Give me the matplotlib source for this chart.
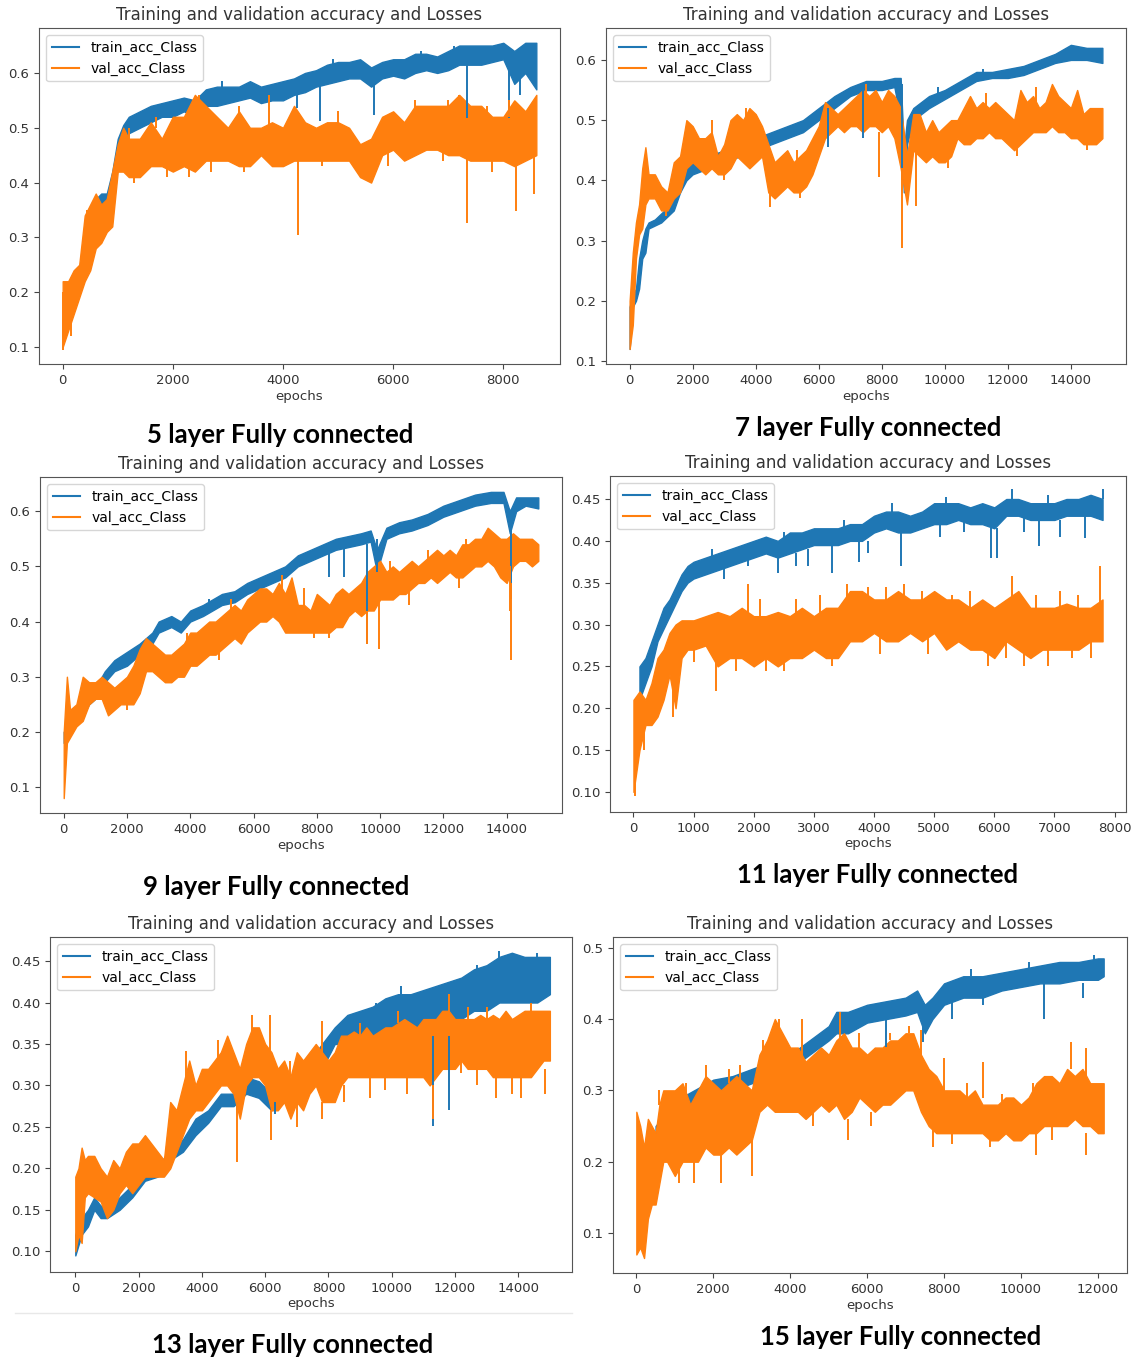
import matplotlib
matplotlib.use('Agg')
import numpy as np
import matplotlib.pyplot as plt
from matplotlib.lines import Line2D
from matplotlib.ticker import FormatStrFormatter

BLUE = '#1f77b4'
ORANGE = '#ff7f0e'
TITLE = 'Training and validation accuracy and Losses'

#----------------------------------------------------------------
# 5 layer
#----------------------------------------------------------------
x5 = [0, 100, 200, 300, 400, 500, 600, 700, 800, 900, 1000, 1100, 1200,
      1400, 1600, 1800, 2000, 2200, 2400, 2600, 2800, 3000, 3200, 3400, 3600,
      3800, 4000, 4200, 4400, 4600, 4800, 5000, 5200, 5400, 5600, 5800, 6000,
      6200, 6400, 6600, 6800, 7000, 7200, 7400, 7600, 7800, 8000, 8200, 8400, 8600]
t5_lo = [.12, .14, .17, .20, .24, .29, .34, .35, .36, .39, .44, .47, .49, .50, .51, .52, .52,
         .53, .52, .54, .54, .545, .55, .555, .545, .55, .55, .56, .565, .575, .58, .585,
         .59, .59, .575, .59, .595, .59, .60, .605, .60, .605, .615, .615, .615, .62, .625,
         .58, .60, .57]
t5_hi = [.15, .17, .20, .24, .28, .33, .37, .38, .38, .42, .48, .505, .52, .53, .54, .545,
         .55, .555, .55, .57, .575, .575, .575, .585, .575, .58, .585, .59, .60, .605, .615,
         .62, .62, .625, .61, .62, .625, .625, .635, .635, .63, .64, .65, .65, .65, .65, .655,
         .64, .655, .655]
v5_lo = [.10, .13, .16, .19, .22, .24, .28, .29, .31, .32, .42, .42, .41, .41, .43, .43, .42,
         .43, .42, .44, .44, .44, .43, .43, .45, .43, .43, .44, .44, .44, .44, .44, .44, .41,
         .40, .45, .46, .44, .45, .46, .46, .45, .45, .44, .44, .44, .44, .43, .44, .45]
v5_hi = [.22, .22, .24, .25, .34, .36, .38, .36, .37, .42, .47, .50, .48, .48, .51, .48, .52,
         .52, .56, .54, .52, .50, .53, .50, .50, .51, .50, .54, .51, .50, .51, .51, .50, .47,
         .48, .52, .53, .51, .54, .54, .54, .54, .56, .54, .54, .52, .52, .55, .53, .56]
t5_spk = [(4250, .56, .536), (4670, .58, .512), (5660, .58, .524), (7340, .62, .518),
          (8100, .62, .518), (8300, .60, .56), (2900, .57, .585), (4900, .61, .625),
          (6500, .63, .64), (7100, .63, .65)]
v5_spk = [(10, .20, .095), (2480, .50, .56), (3750, .49, .56), (4280, .44, .305),
          (7340, .45, .327), (8230, .44, .348), (8550, .45, .38), (7200, .50, .56),
          (1300, .42, .40), (1900, .43, .41), (2300, .44, .41), (2700, .44, .42),
          (3300, .44, .42), (4700, .45, .43), (5900, .46, .43), (6900, .47, .44),
          (7800, .45, .42), (1200, .47, .50), (1700, .50, .52), (3200, .52, .54),
          (5000, .50, .53), (6400, .53, .55), (7000, .53, .55), (7700, .52, .54),
          (8100, .52, .55), (150, .15, .12), (350, .21, .26), (450, .30, .35)]

#----------------------------------------------------------------
# 7 layer
#----------------------------------------------------------------
x7_t = [0, 100, 200, 300, 400, 500, 600, 800, 1000, 1200, 1400, 1600, 1800, 2000, 2500,
        3000, 3500, 4000, 4500, 5000, 5500, 6000, 6500, 7000, 7500, 8000, 8400, 8600, 8700,
        8800, 9000, 9500, 10000, 10500, 11000, 11500, 12000, 12500, 13000, 13500, 14000,
        14500, 15000]
t7_lo = [.12, .19, .20, .22, .27, .28, .32, .325, .33, .34, .35, .38, .40, .41, .42, .43, .44,
         .45, .46, .47, .48, .50, .52, .54, .55, .55, .555, .50, .38, .46, .50, .52, .535, .55,
         .565, .57, .57, .575, .585, .595, .60, .60, .595]
t7_hi = [.19, .21, .22, .27, .30, .32, .33, .335, .345, .355, .37, .40, .42, .43, .44, .45,
         .46, .47, .48, .49, .50, .52, .54, .555, .565, .565, .57, .57, .45, .50, .52, .54, .55,
         .565, .58, .58, .585, .59, .60, .61, .625, .62, .62]
x7_v = [0, 100, 200, 300, 400, 500, 600] + list(range(800, 15001, 200))
v7_lo = [.12, .16, .27, .31, .32, .36, .37,
         .37, .35, .35, .37, .38, .42, .43, .42, .41, .42,
         .41, .41, .42, .44, .43, .42, .43, .44, .38, .37,
         .38, .39, .38, .38, .39, .41, .44, .47, .48, .49,
         .48, .49, .49, .48, .49, .49, .48, .49, .47, .42,
         .36, .45, .44, .43, .44, .43, .43, .44, .47, .46,
         .46, .47, .47, .48, .47, .47, .46, .45, .46, .47,
         .48, .48, .48, .49, .48, .48, .47, .47, .46, .46,
         .46, .47]
v7_hi = [.20, .28, .33, .36, .42, .455, .41,
         .41, .39, .38, .43, .44, .50, .49, .47, .47, .48,
         .44, .46, .50, .51, .50, .52, .51, .49, .46, .43,
         .44, .45, .43, .44, .45, .47, .49, .53, .52, .51,
         .52, .53, .54, .55, .54, .55, .53, .55, .54, .52,
         .44, .51, .51, .48, .50, .48, .49, .50, .50, .52,
         .54, .52, .53, .52, .53, .52, .51, .50, .55, .53,
         .54, .52, .53, .56, .54, .53, .52, .55, .51, .52,
         .52, .52]
t7_spk = [(6300, .52, .455), (7400, .55, .47), (8650, .56, .40), (9800, .54, .555),
          (11200, .57, .585), (13700, .60, .615)]
v7_spk = [(8650, .42, .287), (7900, .48, .405), (9100, .45, .358), (4450, .40, .355),
          (1150, .36, .34), (2600, .47, .50), (3700, .49, .52), (5300, .42, .45),
          (7500, .54, .56), (11300, .52, .545), (12900, .53, .555), (3000, .42, .40),
          (5400, .39, .37), (10100, .44, .42), (12300, .46, .44), (14500, .47, .45)]

#----------------------------------------------------------------
# 9 layer
#----------------------------------------------------------------
x9_t = [0, 200, 500, 800, 1000, 1300, 1600, 2000, 2400, 2800, 3000, 3400, 3700, 4000, 4400,
        5000, 5400, 5800, 6200, 6600, 7000, 7400, 7800, 8200, 8600, 9000, 9400, 9700, 9900,
        10200, 10600, 11000, 11500, 12000, 12500, 13000, 13500, 13900, 14100, 14300, 14600,
        15000]
t9_lo = [.18, .20, .22, .25, .26, .29, .31, .32, .34, .36, .38, .39, .38, .40, .41, .43, .435,
         .45, .46, .47, .48, .50, .51, .52, .53, .535, .54, .545, .49, .55, .56, .565, .575,
         .59, .60, .61, .615, .615, .56, .60, .61, .605]
t9_hi = [.20, .22, .25, .27, .28, .31, .33, .345, .36, .38, .40, .41, .40, .42, .43, .45, .455,
         .47, .48, .49, .50, .52, .53, .54, .55, .555, .56, .565, .53, .57, .58, .585, .595,
         .61, .62, .63, .635, .635, .60, .625, .625, .625]
x9_v = [0, 100] + list(range(200, 15001, 200))
v9_lo = [.08, .18, .19, .21, .22, .25, .26, .26, .23, .24,
         .25, .25, .25, .27, .31, .31, .30, .29, .29, .30,
         .30, .32, .32, .33, .34, .34, .35, .36, .37, .36,
         .38, .39, .40, .40, .41, .40, .38, .38, .38, .38,
         .38, .38, .38, .38, .39, .39, .41, .42, .41, .42,
         .42, .44, .44, .44, .45, .45, .46, .47, .47, .48,
         .47, .48, .49, .48, .48, .49, .50, .50, .51, .50,
         .48, .47, .50, .51, .51, .50, .51]
v9_hi = [.20, .30, .24, .25, .30, .29, .29, .30, .29, .28,
         .29, .30, .32, .35, .37, .36, .35, .34, .34, .35,
         .36, .38, .38, .39, .40, .40, .41, .42, .43, .42,
         .44, .45, .46, .46, .45, .47, .45, .48, .43, .43,
         .42, .45, .44, .43, .45, .46, .45, .46, .47, .49,
         .50, .51, .49, .50, .49, .50, .51, .50, .51, .52,
         .53, .52, .53, .52, .54, .54, .55, .55, .57, .56,
         .55, .55, .56, .55, .55, .55, .54]
t9_spk = [(8400, .53, .48), (8850, .535, .48), (9600, .54, .36), (9900, .55, .49),
          (14150, .58, .44), (4600, .43, .44), (7200, .50, .51), (11800, .59, .60)]
v9_spk = [(9600, .42, .36), (9950, .44, .35), (14150, .47, .33), (6900, .44, .485),
          (8400, .40, .37), (14100, .50, .42), (3900, .36, .38), (5300, .41, .44),
          (7600, .42, .46), (10300, .48, .51), (11500, .50, .53), (12700, .53, .55),
          (2000, .26, .24), (4900, .36, .33), (7900, .39, .37), (10900, .46, .43),
          (12500, .49, .46)]

#----------------------------------------------------------------
# 11 layer
#----------------------------------------------------------------
x11_t = [100, 200, 300, 400, 500, 600, 700, 800, 900, 1000] + list(range(1200, 7801, 200))
t11_lo = [.21, .23, .25, .28, .295, .31, .325, .34, .35, .355,
          .36, .365, .37, .375, .38, .385, .38, .385, .39, .395,
          .395, .395, .40, .40, .41, .415, .41, .41, .415, .42,
          .42, .425, .42, .42, .415, .43, .43, .425, .425, .425,
          .43, .43, .43, .425]
t11_hi = [.25, .26, .28, .30, .32, .33, .345, .36, .37, .375,
          .38, .385, .39, .395, .40, .405, .40, .41, .41, .415,
          .415, .415, .42, .42, .43, .435, .435, .43, .435, .445,
          .445, .445, .44, .445, .44, .45, .45, .445, .445, .445,
          .45, .45, .455, .45]
x11_v = [0, 100, 200, 300, 400, 500, 600, 700, 800, 900, 1000] + list(range(1200, 7801, 200))
v11_lo = [.10, .15, .18, .18, .19, .21, .24, .20, .26, .27, .27,
          .275, .25, .26, .26, .25, .26, .25, .26, .26,
          .27, .26, .26, .28, .28, .29, .28, .28, .29, .28,
          .29, .27, .28, .27, .27, .26, .28, .27, .26, .27,
          .27, .27, .27, .28, .28]
v11_hi = [.21, .22, .21, .23, .26, .27, .29, .30, .305, .305, .305,
          .31, .315, .31, .32, .31, .31, .315, .31, .32,
          .31, .32, .32, .34, .34, .33, .33, .34, .33, .33,
          .34, .33, .33, .32, .33, .32, .33, .34, .32, .32,
          .32, .325, .32, .32, .33]
t11_spk = [(2400, .38, .362), (3300, .395, .362), (3750, .40, .375), (4450, .41, .37),
           (5950, .415, .38), (6050, .415, .38), (6750, .425, .394), (7500, .43, .404),
           (6300, .45, .462), (7800, .45, .462), (1500, .37, .355), (2900, .39, .37),
           (1300, .38, .39), (2500, .40, .41), (3500, .415, .425), (4300, .435, .445),
           (5200, .445, .452), (6900, .445, .455), (1900, .38, .37), (2700, .385, .37),
           (3900, .40, .385), (5100, .42, .405), (5500, .425, .41), (6500, .43, .41),
           (7100, .425, .405)]
v11_spk = [(20, .20, .095), (180, .19, .15), (650, .25, .19), (1380, .27, .22),
           (1900, .31, .348), (2500, .26, .245), (3550, .33, .348), (4500, .33, .348),
           (6300, .33, .358), (7750, .32, .37), (6500, .27, .25), (5900, .27, .25),
           (2100, .30, .33), (2700, .30, .33), (3100, .30, .335), (3900, .32, .345),
           (4200, .32, .345), (4800, .32, .34), (5300, .31, .335), (5600, .31, .34),
           (6700, .31, .335), (7100, .31, .34), (7400, .31, .335), (1000, .28, .255),
           (1700, .27, .245), (2200, .27, .245), (3300, .27, .25), (4100, .29, .265),
           (4900, .29, .265), (6200, .28, .26), (6900, .27, .25), (7300, .28, .26),
           (7600, .28, .26)]

#----------------------------------------------------------------
# 13 layer
#----------------------------------------------------------------
x13_t = [0, 200, 400, 600, 800, 1000] + list(range(1400, 14801, 400)) + [15000]
t13_lo = [.095, .12, .13, .15, .14, .14, .15, .165, .185, .19,
          .21, .22, .24, .255, .275, .275, .29, .285, .27, .28,
          .29, .30, .32, .35, .35, .355, .36, .36, .36, .37,
          .37, .37, .38, .38, .39, .39, .40, .40, .40, .40, .41]
t13_hi = [.12, .14, .15, .165, .155, .155, .165, .18, .195, .20,
          .225, .235, .26, .27, .29, .29, .31, .305, .29, .30,
          .31, .33, .35, .37, .385, .39, .395, .405, .41, .41,
          .415, .42, .425, .43, .44, .445, .455, .46, .455, .455, .455]
x13_v = [0, 100, 200, 300, 400] + list(range(600, 15001, 200))
v13_lo = [.10, .12, .11, .165, .17,
          .165, .16, .14, .15, .17, .18, .17, .18, .19, .19,
          .19, .19, .20, .22, .24, .26, .27, .27, .28, .29,
          .30, .30, .29, .26, .30, .31, .31, .30, .27, .27,
          .28, .26, .28, .27, .29, .30, .28, .28, .28, .30,
          .31, .31, .31, .31, .31, .31, .31, .31, .31, .31,
          .31, .31, .31, .30, .31, .32, .32, .32, .33, .32,
          .32, .32, .32, .31, .31, .31, .31, .31, .31, .31,
          .32, .33, .33]
v13_hi = [.19, .20, .225, .21, .215,
          .215, .20, .19, .21, .20, .22, .23, .23, .24, .23,
          .22, .21, .28, .27, .30, .33, .30, .32, .32, .33,
          .34, .36, .34, .32, .35, .37, .37, .35, .34, .32,
          .33, .31, .34, .33, .34, .35, .34, .33, .34, .36,
          .36, .365, .36, .37, .36, .365, .37, .37, .375, .38,
          .375, .37, .38, .38, .38, .39, .39, .38, .38, .38,
          .38, .385, .38, .385, .38, .39, .38, .385, .39, .39,
          .39, .39, .39]
t13_spk = [(11300, .36, .2515), (11800, .36, .27), (6300, .28, .265), (5100, .28, .27),
           (9500, .39, .40), (10300, .41, .42), (12700, .435, .445), (13400, .45, .462),
           (14600, .455, .46)]
v13_spk = [(3500, .30, .342), (6150, .34, .385), (7800, .33, .378), (11800, .38, .41),
           (5100, .29, .208), (6200, .27, .234), (7000, .28, .25), (7800, .28, .259),
           (11300, .30, .26), (13300, .31, .285), (14100, .31, .285), (14850, .32, .29),
           (9300, .31, .285), (5600, .36, .385), (8500, .30, .28), (9800, .31, .295),
           (10500, .31, .29), (12200, .33, .315), (12700, .32, .30), (13800, .31, .29),
           (9000, .36, .375), (10200, .375, .39), (12400, .38, .395), (13000, .38, .395),
           (14400, .39, .40), (4500, .33, .355), (6800, .31, .33)]

#----------------------------------------------------------------
# 15 layer
#----------------------------------------------------------------
x15_t = [500, 1000, 1500, 2000, 2500, 3000, 3500, 4000, 4500, 5000, 5200, 5500, 6000, 6500,
         7000, 7300, 7500, 7700, 8000, 8500, 9000, 9500, 10000, 10500, 11000, 11500, 12000,
         12150]
t15_lo = [.22, .26, .28, .30, .30, .31, .32, .33, .35, .37, .38, .38, .395, .40, .405, .41,
          .38, .40, .42, .43, .43, .44, .445, .45, .45, .455, .455, .46]
t15_hi = [.25, .285, .30, .315, .32, .33, .34, .35, .37, .39, .41, .41, .42, .425, .43, .44,
          .42, .43, .45, .46, .46, .465, .47, .475, .48, .48, .485, .485]
x15_v = [0, 100, 200, 300, 400, 500, 600, 700, 800] + list(range(1000, 12001, 200)) + [12150]
v15_lo = [.07, .08, .065, .12, .14, .14, .17, .20, .20,
          .18, .20, .20, .20, .22, .21, .21, .22, .21, .22,
          .23, .27, .28, .27, .27, .27, .27, .26, .27, .28,
          .27, .28, .26, .27, .29, .28, .27, .28, .28, .29,
          .30, .30, .27, .25, .24, .24, .24, .24, .24, .24,
          .24, .23, .23, .24, .23, .23, .24, .24, .25, .25,
          .25, .25, .26, .25, .25, .24, .24]
v15_hi = [.27, .25, .22, .26, .25, .24, .28, .30, .30,
          .30, .31, .28, .30, .32, .31, .30, .31, .32, .31,
          .30, .35, .37, .40, .38, .36, .36, .34, .35, .36,
          .35, .37, .38, .36, .36, .35, .36, .36, .37, .37,
          .38, .38, .35, .33, .32, .30, .30, .30, .29, .30,
          .28, .28, .28, .29, .29, .28, .29, .31, .32, .32,
          .31, .33, .32, .33, .31, .31, .31]
t15_spk = [(6500, .40, .361), (7450, .39, .368), (10600, .45, .40), (9000, .43, .42),
           (11600, .45, .43), (8200, .43, .40), (8700, .46, .47), (10200, .47, .48),
           (11900, .48, .49)]
v15_spk = [(3700, .37, .40), (4300, .35, .40), (5300, .37, .41), (7100, .38, .39),
           (7400, .35, .385), (11300, .33, .368), (11700, .32, .36), (8000, .30, .345),
           (9000, .29, .34), (1100, .20, .17), (1500, .20, .17), (2200, .21, .17),
           (5500, .26, .23), (7700, .25, .22), (10400, .24, .21), (11700, .24, .21),
           (3000, .23, .18), (1800, .30, .335), (2700, .31, .335), (600, .28, .30),
           (1300, .29, .31), (2400, .31, .33), (3300, .35, .37), (5800, .36, .38),
           (6600, .37, .38), (9500, .28, .295), (10300, .29, .31), (8600, .29, .31),
           (4600, .27, .25), (6100, .27, .25), (8200, .24, .225), (9200, .23, .22),
           (10800, .25, .23)]

W, H = 1138, 1362
fig = plt.figure(figsize=(W / 100.0, H / 100.0), dpi=100)


def px_axes(left, top, right, bottom):
    return fig.add_axes([left / W, 1 - bottom / H, (right - left) / W, (bottom - top) / H])


def band(ax, x, lo, hi, spk, color):
    ax.fill_between(x, lo, hi, color=color, lw=1.0, edgecolor=color)
    if spk:
        sx = [s[0] for s in spk]
        ax.vlines(sx, [s[1] for s in spk], [s[2] for s in spk], color=color, lw=1.4)


panels = [
    # box, train, val, xlim, ylim, xticks, yticks, yfmt, caption, caption pos
    ((39, 28, 560, 364), (x5, t5_lo, t5_hi, t5_spk), (x5, v5_lo, v5_hi, v5_spk),
     (-430, 9030), (0.069, 0.682), np.arange(0, 8001, 2000), np.arange(0.1, 0.61, 0.1), '%.1f',
     '5 layer Fully connected', (280, 435)),
    ((606, 28, 1126, 364), (x7_t, t7_lo, t7_hi, t7_spk), (x7_v, v7_lo, v7_hi, v7_spk),
     (-750, 15750), (0.095, 0.653), np.arange(0, 14001, 2000), np.arange(0.1, 0.61, 0.1), '%.1f',
     '7 layer Fully connected', (868, 428)),
    ((40, 477, 562, 813), (x9_t, t9_lo, t9_hi, t9_spk), (x9_v, v9_lo, v9_hi, v9_spk),
     (-750, 15750), (0.053, 0.662), np.arange(0, 14001, 2000), np.arange(0.1, 0.61, 0.1), '%.1f',
     '9 layer Fully connected', (276, 887)),
    ((610, 476, 1126, 812), (x11_t, t11_lo, t11_hi, t11_spk), (x11_v, v11_lo, v11_hi, v11_spk),
     (-390, 8190), (0.076, 0.4775), np.arange(0, 8001, 1000), np.arange(0.10, 0.451, 0.05), '%.2f',
     '11 layer Fully connected', (878, 875)),
    ((50, 937, 572, 1272), (x13_t, t13_lo, t13_hi, t13_spk), (x13_v, v13_lo, v13_hi, v13_spk),
     (-800, 15700), (0.075, 0.479), np.arange(0, 14001, 2000), np.arange(0.10, 0.451, 0.05), '%.2f',
     '13 layer Fully connected', (293, 1345)),
    ((613, 937, 1127, 1273), (x15_t, t15_lo, t15_hi, t15_spk), (x15_v, v15_lo, v15_hi, v15_spk),
     (-607, 12757), (0.044, 0.515), np.arange(0, 12001, 2000), np.arange(0.1, 0.51, 0.1), '%.1f',
     '15 layer Fully connected', (901, 1337)),
]

for box, tr, va, xl, yl, xt, yt, yfmt, cap, cpos in panels:
    ax = px_axes(*box)
    band(ax, tr[0], tr[1], tr[2], tr[3], BLUE)
    band(ax, va[0], va[1], va[2], va[3], ORANGE)
    ax.set_xlim(xl)
    ax.set_ylim(yl)
    ax.set_xticks(xt)
    ax.set_yticks(yt)
    ax.yaxis.set_major_formatter(FormatStrFormatter(yfmt))
    ax.tick_params(labelsize=9.5, colors='#444444', labelcolor='#333333')
    for sp in ax.spines.values():
        sp.set_color('#555555')
    ax.set_xlabel('epochs', fontsize=9.5, color='#333333', labelpad=2)
    ax.set_title(TITLE, fontsize=12, color='#333333')
    handles = [Line2D([], [], color=BLUE, lw=1.5), Line2D([], [], color=ORANGE, lw=1.5)]
    ax.legend(handles, ['train_acc_Class', 'val_acc_Class'], loc='upper left', fontsize=10)
    fig.text(cpos[0] / W, 1 - cpos[1] / H, cap, ha='center', va='center',
             fontsize=18.5, fontweight='bold', family='Lato', color='black')

# faint separator under the 13 layer panel
fig.add_artist(Line2D([15 / W, 572 / W], [1 - 1313 / H, 1 - 1313 / H], color='#e8e8e8', lw=1))

plt.savefig('out.png', dpi=100)
